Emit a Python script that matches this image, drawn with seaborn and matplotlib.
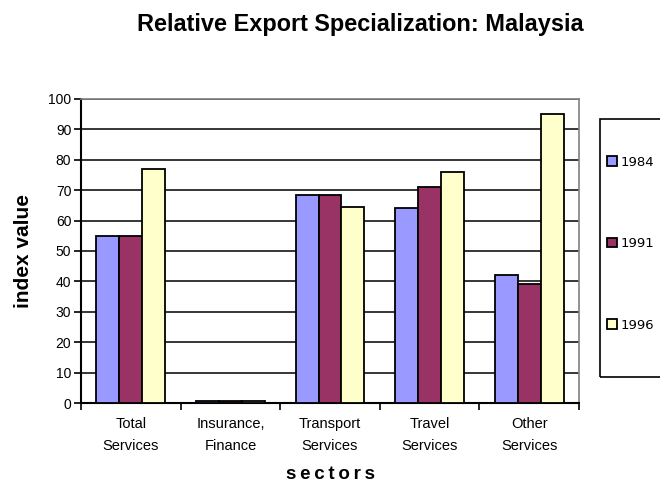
import matplotlib
matplotlib.use("Agg")
import matplotlib.pyplot as plt
from matplotlib.patches import Patch, Rectangle
import seaborn as sns
import pandas as pd

sectors = ["Total\nServices", "Insurance,\nFinance", "Transport\nServices",
           "Travel\nServices", "Other\nServices"]
years = ["1984", "1991", "1996"]
v1984 = [55, 0.5, 68.5, 64, 42]
v1991 = [55, 0.5, 68.5, 71, 39]
v1996 = [77, 0.5, 64.5, 76, 95]
colors = ["#9999FF", "#993366", "#FFFFCC"]

df = pd.DataFrame({
    "sector": sectors * 3,
    "year": [years[0]] * 5 + [years[1]] * 5 + [years[2]] * 5,
    "value": v1984 + v1991 + v1996,
})

sns.set_theme(style="white")
plt.rcParams["font.family"] = ["Liberation Sans", "DejaVu Sans"]
plt.rcParams["text.color"] = "black"
plt.rcParams["axes.labelcolor"] = "black"
plt.rcParams["xtick.color"] = "black"
plt.rcParams["ytick.color"] = "black"

fig = plt.figure(figsize=(6.6, 4.94), dpi=100)
ax = fig.add_axes([81 / 660, 1 - 403 / 494, (579 - 81) / 660, (403 - 99) / 494])

sns.barplot(data=df, x="sector", y="value", hue="year", palette=colors,
            saturation=1, width=0.69, gap=0, edgecolor="black", linewidth=1.3,
            legend=False, ax=ax, zorder=3)

ax.set_ylim(0, 100)
ax.set_xlim(-0.5, 4.5)
ax.set_yticks(range(0, 101, 10))
ax.yaxis.grid(True, color="black", linewidth=1.1, zorder=0)
ax.set_axisbelow(True)

# x ticks: labels at category centres, marks at category boundaries
ax.set_xticks(range(5))
ax.set_xticks([i - 0.5 for i in range(6)], minor=True)
ax.tick_params(axis="x", which="major", length=0, pad=10, labelsize=10.5)
ax.tick_params(axis="x", which="minor", length=5, width=1.2, color="black",
               bottom=True, direction="out")
ax.tick_params(axis="y", length=5, width=1.2, color="black", left=True,
               direction="out", labelsize=10, pad=2)
for lab in ax.get_xticklabels():
    lab.set_linespacing(1.7)

for side in ["left", "bottom"]:
    ax.spines[side].set_color("black")
    ax.spines[side].set_linewidth(1.5)
for side in ["top", "right"]:
    ax.spines[side].set_color("#808080")
    ax.spines[side].set_linewidth(1.2)

ax.set_xlabel("s\u2009e\u2009c\u2009t\u2009o\u2009r\u2009s", fontsize=13.5,
              fontweight="bold", labelpad=10)
ax.set_ylabel("index value", fontsize=15, fontweight="bold", labelpad=11)

fig.text(360.5 / 660, 1 - 31 / 494, "Relative Export Specialization: Malaysia",
         ha="center", va="baseline", fontsize=16.9, fontweight="bold")

# legend: entries without their own frame, boxed by a separate rectangle
handles = [Patch(facecolor=c, edgecolor="black", linewidth=1.3) for c in colors]
leg = fig.legend(handles, years, loc="upper left",
                 bbox_to_anchor=(607 / 660, 1 - 155.5 / 494),
                 frameon=False, handlelength=0.75, handleheight=0.75,
                 handletextpad=0.3, labelspacing=5.2, borderpad=0,
                 borderaxespad=0, prop={"family": "DejaVu Sans", "size": 9.5})
fig.patches.append(Rectangle((600 / 660, 1 - 377 / 494), 0.2, (377 - 119) / 494,
                             transform=fig.transFigure, fill=False,
                             edgecolor="black", linewidth=1.2))

fig.savefig("out.png", dpi=100)
